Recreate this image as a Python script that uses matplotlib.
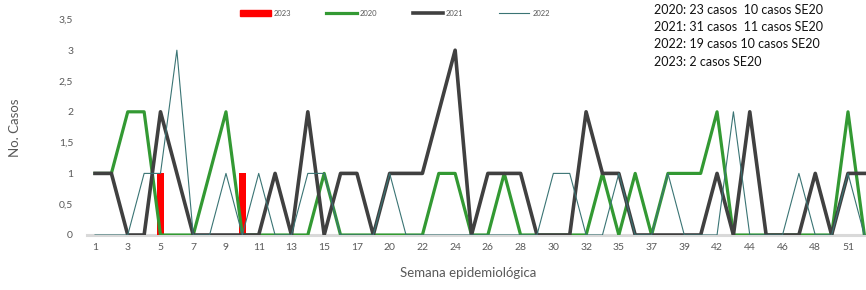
import matplotlib
matplotlib.use('Agg')
import matplotlib.pyplot as plt
from matplotlib.patches import Patch
from matplotlib.lines import Line2D
import numpy as np

plt.rcParams['font.family'] = ['Lato', 'DejaVu Sans']

# semanas epidemiologicas (categorias del eje x)
semanas = [1, 2, 3, 4, 5, 6, 7, 8, 9, 10, 11, 12, 13, 14, 15, 16, 17, 19,
           20, 21, 22, 23, 24, 25, 26, 27, 28, 29, 30, 31, 32, 33, 35, 36,
           37, 38, 39, 40, 42, 43, 44, 45, 46, 47, 48, 49, 51, 52]

casos_2020 = [1, 1, 2, 2, 0, 0, 0, 1, 2, 0, 0, 0, 0, 0, 1, 0, 0, 0,
              0, 0, 0, 1, 1, 0, 0, 1, 0, 0, 0, 0, 0, 1, 0, 1,
              0, 1, 1, 1, 2, 0, 0, 0, 0, 0, 0, 0, 2, 0]
casos_2021 = [1, 1, 0, 0, 2, 1, 0, 0, 0, 0, 0, 1, 0, 2, 0, 1, 1, 0,
              1, 1, 1, 2, 3, 0, 1, 1, 1, 0, 0, 0, 2, 1, 1, 0,
              0, 0, 0, 0, 1, 0, 2, 0, 0, 0, 1, 0, 1, 1]
casos_2022 = [0, 0, 0, 1, 1, 3, 0, 0, 1, 0, 1, 0, 0, 1, 1, 0, 0, 0,
              1, 0, 0, 0, 0, 0, 0, 0, 0, 0, 1, 1, 0, 0, 1, 0,
              0, 1, 0, 0, 0, 2, 0, 0, 0, 1, 0, 0, 1, 0]
casos_2023 = [0, 0, 0, 0, 1, 0, 0, 0, 0, 1, 0, 0, 0, 0, 0, 0, 0, 0,
              0, 0, 0, 0, 0, 0, 0, 0, 0, 0, 0, 0, 0, 0, 0, 0,
              0, 0, 0, 0, 0, 0, 0, 0, 0, 0, 0, 0, 0, 0]

resumen = ["2020: 23 casos  10 casos SE20",
           "2021: 31 casos  11 casos SE20",
           "2022: 19 casos 10 casos SE20",
           "2023: 2 casos SE20"]

c_2023 = '#ff0000'
c_2020 = '#339933'
c_2021 = '#404040'
c_2022 = '#3a7474'
gris = '#595959'

x = np.arange(len(semanas))

fig = plt.figure(figsize=(8.66, 2.9), dpi=100)
ax = fig.add_axes([87 / 866, 55 / 290, 779 / 866, (235 - 19.4) / 290])

ax.bar(x, casos_2023, width=0.42, color=c_2023, zorder=2)
ax.plot(x, casos_2020, color=c_2020, lw=2.3, zorder=3)
ax.plot(x, casos_2021, color=c_2021, lw=2.6, zorder=4)
ax.plot(x, casos_2022, color=c_2022, lw=0.8, zorder=5)

ax.set_xlim(-0.49, 47.1)
ax.set_ylim(0, 3.5)
ax.set_xticks(x[::2])
ax.set_xticklabels([str(s) for s in semanas[::2]])
yt = np.arange(0, 3.51, 0.5)
ax.set_yticks(yt)
ax.set_yticklabels([('%g' % v).replace('.', ',') for v in yt])
ax.tick_params(axis='both', length=0, labelsize=7.5, colors=gris)
ax.tick_params(axis='y', pad=10)
ax.tick_params(axis='x', pad=6)

for s in ['top', 'right', 'left']:
    ax.spines[s].set_visible(False)
ax.spines['bottom'].set_color('#d9d9d9')
ax.spines['bottom'].set_linewidth(2.2)
ax.spines['bottom'].set_zorder(1)

fig.text(15 / 866, 1 - 128 / 290, 'No. Casos', rotation=90, ha='center',
         va='center', fontsize=9.5, color=gris)
fig.text(468 / 866, 1 - 273 / 290, 'Semana epidemiológica', ha='center',
         va='center', fontsize=9.5, color=gris)

handles = [Patch(color=c_2023), Line2D([], [], color=c_2020, lw=2.3),
           Line2D([], [], color=c_2021, lw=2.6), Line2D([], [], color=c_2022, lw=0.8)]
fig.legend(handles, ['2023', '2020', '2021', '2022'], ncol=4, frameon=False,
           loc='center', bbox_to_anchor=(395 / 866, 1 - 13 / 290),
           fontsize=5.5, labelcolor=gris, handlelength=4, handleheight=0.9,
           columnspacing=4.6, handletextpad=0.4)

fig.text(654 / 866, 1 - 4 / 290, '\n'.join(resumen), ha='left', va='top',
         fontsize=9, color='#111111', linespacing=1.52)

fig.savefig('out.png', dpi=100)
